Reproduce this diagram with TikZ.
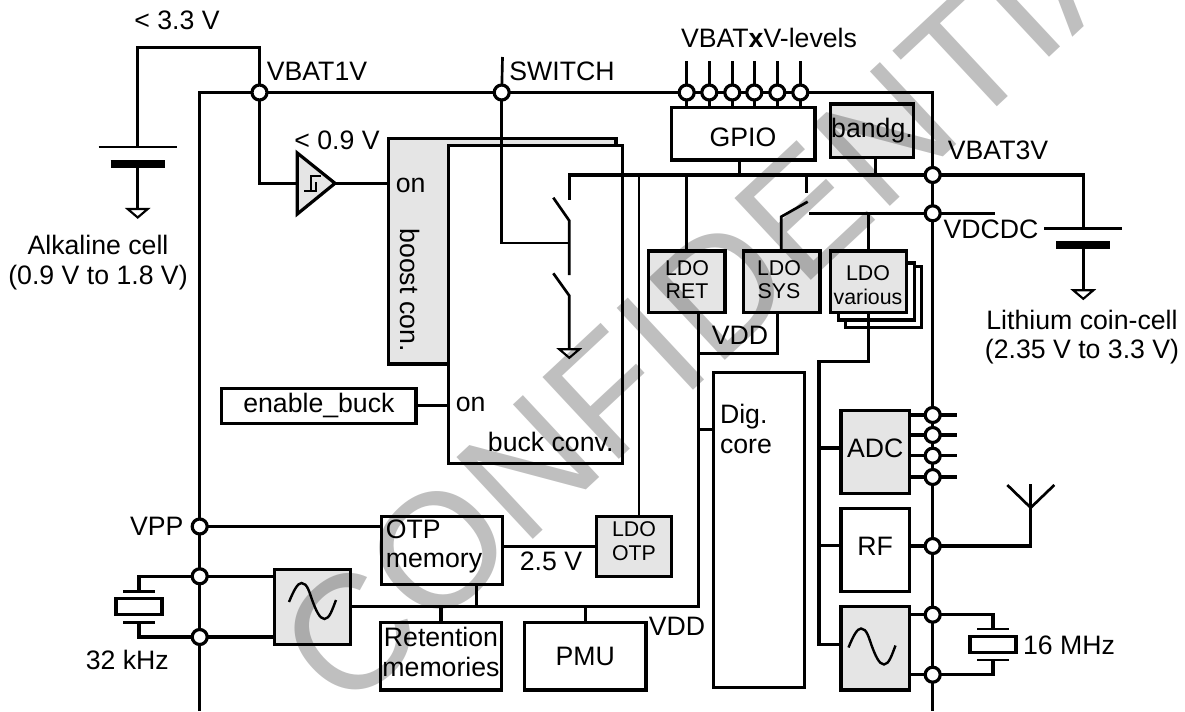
\documentclass[tikz,border=0pt]{standalone}
\usepackage{fontspec}
\setmainfont{Liberation Sans}
\usepackage{xcolor}
\usetikzlibrary{positioning}
\definecolor{blockgray}{HTML}{E5E5E5}

\begin{document}
\begin{tikzpicture}[
    x=0.75pt, y=-0.75pt,
    line width=2.4pt,
    every node/.style={font=\fontsize{20}{22}\selectfont, inner sep=0pt, outer sep=0pt},
    wblock/.style 2 args={rectangle, draw, fill=white, align=center, minimum width=#1*0.75pt, minimum height=#2*0.75pt},
    gblock/.style 2 args={wblock={#1}{#2}, fill=blockgray},
    ldotext/.style={align=center, font=\fontsize{16}{17.5}\selectfont},
    lbl/.style={align=center},
    pinmark/.style={circle, draw, fill=white, minimum size=15*0.75pt},
    gndsym/.pic={\draw[line width=1.6pt, fill=white] (-10,0) -- (10,0) -- (0,8.5) -- cycle;},
    cellsym/.pic={
        \coordinate (-plus) at (0,0);
        \draw[line width=2pt] (-39,0) -- (39,0);
        \draw[line width=6pt] (-27,16.5) -- (27,16.5);
        \draw[line width=2pt] (0,16.5) -- (0,62);
        \path (0,62) pic {gndsym};
    },
    xtalsym/.pic={
        \coordinate (-top) at (0,-15.5);
        \coordinate (-bot) at (0,15.5);
        \draw[line width=2pt] (-16,-15.5) -- (16,-15.5);
        \draw[line width=2pt] (-16,15.5) -- (16,15.5);
        \draw (-23,-8) rectangle (23,8);
    },
    sinesym/.pic={
        \draw[line width=1.8pt] (-23.5,1) .. controls (-19,-10) and (-15,-18) .. (-11,-18)
            .. controls (-5,-18) and (-3,-8) .. (0,0)
            .. controls (3,8) and (7,18) .. (12,18)
            .. controls (17,18) and (20,8) .. (23.5,-1);
    }
]
    \fill[white] (0,0) rectangle (1185,711);
    \useasboundingbox (0,0) rectangle (1185,711);

    % pins on the rails
    \node[pinmark] (vbat1) at (259.5,92.5) {};
    \node[pinmark] (swpin) at (501.7,92.5) {};
    \foreach \n/\x in {1/686.7, 2/709.3, 3/732.3, 4/754.3, 5/777.3, 6/800.3}
        \node[pinmark] (gp\n) at (\x,92.5) {};
    \node[pinmark] (vbat3) at (932.7,175) {};
    \node[pinmark] (vdcdc) at (932.7,213.3) {};
    \node[pinmark] (vpp) at (199.7,526.5) {};
    \node[pinmark] (xl1) at (199.7,576.3) {};
    \node[pinmark] (xl2) at (199.7,637) {};
    \foreach \n/\y in {1/415, 2/435, 3/455.7, 4/477}
        \node[pinmark] (ain\n) at (932.7,\y) {};
    \node[pinmark] (rfpin) at (932.7,546) {};
    \node[pinmark] (xr1) at (932.7,614.7) {};
    \node[pinmark] (xr2) at (932.7,674.7) {};

    \coordinate (ltop) at (199.7,92.5);
    \coordinate (rtop) at (932.7,92.5);
    \coordinate (lbot) at (199.7,711);
    \coordinate (rbot) at (932.7,711);
    \coordinate (pinend) at (0,61);
    \coordinate (alktop) at (137.7,47.7);
    \coordinate (ainend) at (956.7,0);
    \coordinate (vdcend) at (995,213.3);

    % blocks
    \node[gblock={227.7}{225.3}] (boost) at (502.2,251.4) {};
    \node[wblock={174}{317.6}] (buck) at (535.3,304.5) {};
    \node[wblock={143.3}{52.7}] (gpio) at (743.3,133.7) {};
    \node[gblock={82.6}{53.3}] (bandg) at (872,130.7) {bandg.};
    \node[gblock={76.7}{61.3}] (ldoret) at (686.7,281.7) {};
    \node[gblock={76.7}{61.3}] (ldosys) at (781.7,281.7) {};
    \node[gblock={76}{61.3}] (ldovar) at (868.7,281.7) {};
    \node[wblock={91}{315}] (dig) at (759,530.2) {};
    \node[gblock={68.3}{82.6}] (adc) at (875.2,452) {};
    \node[wblock={68.3}{83}] (rf) at (875.2,549.8) {};
    \node[gblock={68.3}{83.3}] (oscr) at (875.2,648.3) {};
    \node[gblock={75.8}{75}] (oscl) at (312.5,606.8) {};
    \node[wblock={120.7}{67.6}] (otp) at (442.2,550.5) {};
    \node[gblock={75}{59.4}] (ldootp) at (634.3,546.4) {};
    \node[wblock={120.7}{67.7}] (retmem) at (441,656.2) {};
    \node[wblock={121.4}{67.7}] (pmu) at (585.3,656.2) {PMU};
    \node[wblock={194.3}{35}] (enable) at (318.9,405.8) {enable\_buck};

    % stacked outline behind LDO various
    \draw (906.7,263) -- (914.3,263) -- (914.3,320) -- (838.3,320) -- (838.3,312.3);
    \draw (914.3,266.7) -- (921.7,266.7) -- (921.7,327.3) -- (845.7,327.3) -- (845.7,320);

    % rails
    \draw (lbot) -- (xl2) -- (xl1) -- (vpp) -- (ltop) -- (vbat1) -- (swpin) -- (gp1) -- (gp2) -- (gp3) -- (gp4) -- (gp5) -- (gp6) -- (rtop) -- (vbat3) -- (vdcdc) -- (ain1) -- (ain2) -- (ain3) -- (ain4) -- (rfpin) -- (xr1) -- (xr2) -- (rbot);
    \foreach \n in {1,...,6} {
        \draw (gp\n) -- (gp\n |- pinend);
        \draw (gp\n) -- (gp\n |- gpio.north);
    }

    % alkaline cell and comparator
    \path (137.7,147) pic (alk) {cellsym};
    \draw (vbat1) -- (vbat1 |- alktop) -- (alktop) -- (alk-plus);
    \coordinate (cmpin) at (297.3,183.3);
    \coordinate (cmpout) at (335,183.3);
    \draw[fill=blockgray, line join=miter] (297.3,153) -- (cmpout) -- (297.3,214) -- cycle;
    \draw[line width=1.3pt] (321,175.7) -- (311,175.7) -- (311,190.7) -- (304.3,190.7) (311,190.7) -- (316,190.7) -- (316,181.7);
    \draw (vbat1) |- (cmpin);
    \draw (cmpout) -- (cmpout -| boost.west);
    \draw (enable.east) -- (enable.east -| buck.west);

    % buck switches
    \coordinate (swtop) at (502.5,57);
    \coordinate (swtap) at (569.3,243);
    \coordinate (hsin) at (569.3,199.7);
    \coordinate (hsout) at (569.3,220.7);
    \coordinate (lsin) at (569.3,275);
    \coordinate (lsout) at (569.3,295.7);
    \coordinate (lsgnd) at (569.3,349.3);
    \draw[line width=2pt] (swpin) -- (swtop);
    \draw[line width=2pt] (swpin) |- (swtap);
    \draw (hsin) |- (vbat3);
    \draw[line width=2pt] (553.3,197.7) -- (hsout) -- (lsin);
    \draw[line width=2pt] (553.3,273.3) -- (lsout) -- (lsgnd);
    \path (lsgnd) pic {gndsym};

    % supply branches
    \draw ([xshift=-3pt]gpio.south) -- ([xshift=-3pt]gpio.south |- vbat3);
    \draw ([xshift=2.5pt]bandg.south) -- ([xshift=2.5pt]bandg.south |- vbat3);
    \draw (ldoret.north) -- (ldoret.north |- vbat3);
    \draw[line width=1.6pt] ([xshift=3.5pt]ldootp.north) -- ([xshift=3.5pt]ldootp.north |- vbat3);
    \coordinate (sysin) at (806.3,192.7);
    \coordinate (sysblade) at (807.7,201.7);
    \coordinate (syshinge) at (781.3,216.7);
    \coordinate (vdcin) at (809.3,213.3);
    \draw[line width=2pt] (sysin) -- (sysin |- vbat3);
    \draw[line width=2pt] (sysblade) -- (syshinge) -- (syshinge |- ldosys.north);
    \draw (vdcin) -- (vdcdc) -- (vdcend);
    \draw (ldovar.north) -- (ldovar.north |- vdcdc);

    % VDD net
    \coordinate (vddmid) at (698.7,353.3);
    \coordinate (digtap) at (698.7,429.3);
    \draw ([xshift=9pt]ldoret.south) |- (oscl.east);
    \draw ([xshift=-3.3pt]ldosys.south) |- (vddmid);
    \draw (digtap) -- (digtap -| dig.west);
    \draw ([xshift=26pt]otp.south) -- ([xshift=26pt]otp.south |- oscl.east);
    \draw (retmem.north) -- (retmem.north |- oscl.east);
    \draw (pmu.north) -- (pmu.north |- oscl.east);
    \draw (otp.east |- ldootp.west) -- (ldootp.west);
    \draw (vpp) -- (vpp -| otp.west);
    \draw (xl1) -- (xl1 -| oscl.west);
    \draw (xl2) -- (xl2 -| oscl.west);

    % analog rail on the right
    \coordinate (ratop) at (819,361.7);
    \coordinate (rabot) at (819,644.3);
    \draw (ldovar.south) |- (ratop) -- (rabot) -- (rabot -| oscr.west);
    \draw ([yshift=3pt]adc.west) -- ([yshift=3pt]adc.west -| ratop);
    \draw ([yshift=3pt]rf.west) -- ([yshift=3pt]rf.west -| ratop);
    \foreach \n in {1,...,4} {
        \draw (ain\n -| adc.east) -- (ain\n);
        \draw (ain\n) -- (ain\n -| ainend);
    }
    \draw (rfpin -| rf.east) -- (rfpin);
    \coordinate (antbase) at (1030.7,507.7);
    \coordinate (anttop) at (1030.7,484.3);
    \draw (rfpin) -| (anttop);
    \draw[line width=2pt] (1007.3,485) -- (antbase) -- (1054.3,485);
    \draw (xr1 -| oscr.east) -- (xr1);
    \draw (xr2 -| oscr.east) -- (xr2);

    % lithium cell and crystals
    \path (1083.3,228.3) pic (lith) {cellsym};
    \draw (vbat3) -| (lith-plus);
    \path (139,606.8) pic (xleft) {xtalsym};
    \draw (xl1) -| (xleft-top);
    \draw (xl2) -| (xleft-bot);
    \path (993,644.5) pic (xright) {xtalsym};
    \draw (xr1) -| (xright-top);
    \draw (xr2) -| (xright-bot);
    \path (312.5,601) pic {sinesym};
    \path (872,646.5) pic {sinesym};

    % labels
    \node[lbl] (lthree) at (177,20) {< 3.3 V};
    \node[lbl] (lvbat1) at (317,71) {VBAT1V};
    \node[lbl] (lswitch) at (562,71) {SWITCH};
    \node[lbl] (llevels) at (769,38) {VBAT\textbf{x}V-levels};
    \node[lbl] (lnine) at (337,140) {< 0.9 V};
    \node[lbl] (lgpio) at (743,137) {GPIO};
    \node[lbl] (lon1) at (410.7,185) {on};
    \node[lbl, rotate=-90] (lboost) at (410,290) {boost con.};
    \node[lbl] (lon2) at (470.7,404) {on};
    \node[lbl] (lbuck) at (550.7,442.3) {buck conv.};
    \node[lbl] (lalk) at (98,262.5) {Alkaline cell\\(0.9 V to 1.8 V)};
    \node[lbl] (lvbat3) at (998,150.7) {VBAT3V};
    \node[lbl] (lvdcdc) at (991,229) {VDCDC};
    \node[lbl] (llith) at (1082,337) {Lithium coin-cell\\(2.35 V to 3.3 V)};
    \node[ldotext] (lret) at (687,279.5) {LDO\\RET};
    \node[ldotext] (lsys) at (779,279.5) {LDO\\SYS};
    \node[ldotext] (lvar) at (868,285) {LDO\\various};
    \node[ldotext] (lotpldo) at (634,541) {LDO\\OTP};
    \node[lbl] (lvdd1) at (740,335) {VDD};
    \node[lbl] (lvdd2) at (677,626.7) {VDD};
    \node[lbl, align=left] (ldig) at (746,429) {Dig.\\core};
    \node[lbl, align=left] (lotp) at (434,546.7) {OTP\\memory};
    \node[lbl] (lret2) at (441,652) {Retention\\memories};
    \node[lbl] (ltwo) at (551,561.7) {2.5 V};
    \node[lbl] (ladc) at (875.2,448) {ADC};
    \node[lbl] (lrf) at (875.2,546) {RF};
    \node[lbl] (lvpp) at (156.7,526) {VPP};
    \node[lbl] (lkhz) at (127.3,660) {32 kHz};
    \node[lbl, anchor=west] (lmhz) at (1023,645) {16 MHz};

    % watermark
    \begin{scope}
        \clip (0,0) rectangle (1185,711);
        \node[rotate=43, text=black, text opacity=0.25, font=\fontsize{122}{122}\selectfont, anchor=base west] (stamp) at (345,715) {CONFIDENTIAL};
    \end{scope}
\end{tikzpicture}
\end{document}
